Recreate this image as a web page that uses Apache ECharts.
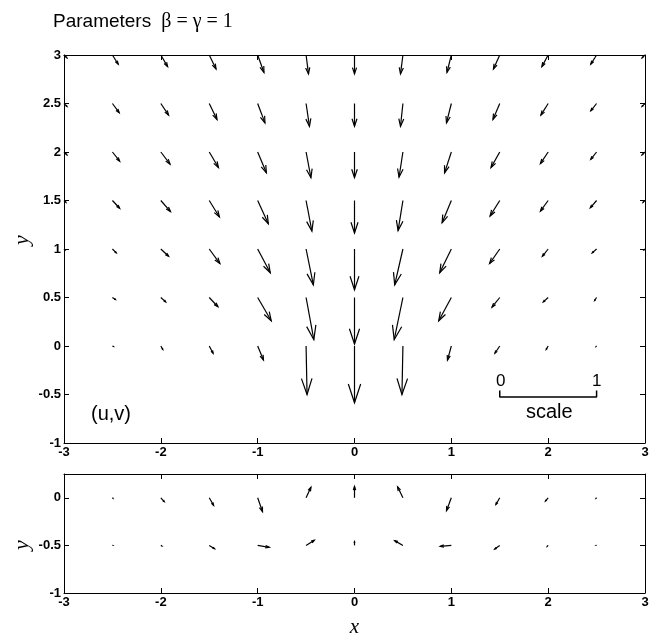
<!DOCTYPE html>
<html>
<head>
<meta charset="utf-8">
<script src="https://cdn.jsdelivr.net/npm/echarts@6/dist/echarts.min.js"></script>
<style>
  html, body { margin: 0; padding: 0; background: #fff; }
  #chart { width: 652px; height: 639px; }
</style>
</head>
<body>
<div id="chart"></div>
<script>
// Grid of sample points (x positions shared by both panels)
const xGrid = [-3, -2.5, -2, -1.5, -1, -0.5, 0, 0.5, 1, 1.5, 2, 2.5, 3];

// Upper panel: rows of y, with velocity components (u, v) per row
const yTop = [0, 0.5, 1, 1.5, 2, 2.5, 3];
const uTop = [
  [0, 0.01, 0.02, 0.04, 0.06, 0.01, 0, -0.01, -0.04, -0.05, -0.02, -0.005, 0],
  [0, 0.03, 0.05, 0.09, 0.14, 0.08, 0, -0.09, -0.13, -0.08, -0.05, -0.02, 0],
  [0.01, 0.04, 0.08, 0.11, 0.13, 0.075, 0, -0.085, -0.12, -0.105, -0.06, -0.045, -0.01],
  [0.02, 0.075, 0.1, 0.105, 0.11, 0.06, 0, -0.05, -0.095, -0.1, -0.08, -0.065, -0.02],
  [0.03, 0.075, 0.095, 0.095, 0.09, 0.05, 0, -0.04, -0.07, -0.09, -0.08, -0.06, -0.03],
  [0.03, 0.07, 0.08, 0.08, 0.075, 0.035, 0, -0.025, -0.05, -0.07, -0.075, -0.06, -0.03],
  [0.03, 0.06, 0.07, 0.07, 0.065, 0.025, 0, -0.025, -0.045, -0.065, -0.065, -0.06, -0.03]
];
const vTop = [
  [0, -0.005, -0.035, -0.075, -0.145, -0.5, -0.585, -0.5, -0.145, -0.075, -0.035, -0.005, 0],
  [0, -0.02, -0.045, -0.095, -0.24, -0.435, -0.48, -0.435, -0.24, -0.1, -0.045, -0.03, 0],
  [-0.01, -0.04, -0.075, -0.15, -0.245, -0.37, -0.42, -0.37, -0.245, -0.15, -0.075, -0.04, -0.01],
  [-0.02, -0.08, -0.115, -0.17, -0.24, -0.315, -0.335, -0.31, -0.23, -0.16, -0.11, -0.075, -0.02],
  [-0.03, -0.095, -0.125, -0.16, -0.215, -0.265, -0.265, -0.26, -0.215, -0.16, -0.12, -0.075, -0.03],
  [-0.03, -0.095, -0.12, -0.165, -0.2, -0.235, -0.235, -0.235, -0.2, -0.165, -0.12, -0.075, -0.03],
  [-0.03, -0.095, -0.12, -0.145, -0.18, -0.195, -0.195, -0.195, -0.18, -0.145, -0.12, -0.095, -0.03]
];

// Lower panel: two rows of y
const yBottom = [0, -0.5];
const uBottom = [
  [0, 0.005, 0.035, 0.045, 0.05, 0.05, 0, -0.055, -0.05, -0.04, -0.028, -0.005, 0],
  [0, 0.003, 0.01, 0.055, 0.12, 0.085, 0, -0.085, -0.115, -0.052, -0.01, -0.003, 0]
];
const vBottom = [
  [0, -0.005, -0.04, -0.08, -0.145, 0.11, 0.12, 0.115, -0.135, -0.07, -0.035, -0.005, 0],
  [0, 0, -0.005, -0.035, -0.02, 0.055, 0.04, 0.05, -0.01, -0.038, -0.01, 0, 0]
];

// Reference arrow length shown by the scale bar (one data unit)
const scaleStart = 1.5;
const scaleLength = 1;
const scaleY = -0.525;
const scaleTickTop = -0.46;

function buildArrows(xs, ys, us, vs) {
  const out = [];
  ys.forEach((y, i) => {
    xs.forEach((x, j) => {
      out.push([x, y, us[i][j], vs[i][j]]);
    });
  });
  return out;
}

const topArrows = buildArrows(xGrid, yTop, uTop, vTop);
const bottomArrows = buildArrows(xGrid, yBottom, uBottom, vBottom);

// Quiver-style arrow: shaft plus a head proportional to the arrow length
function renderArrow(params, api) {
  const x = api.value(0), y = api.value(1), u = api.value(2), v = api.value(3);
  const p0 = api.coord([x, y]);
  const p1 = api.coord([x + u, y + v]);
  const dx = p1[0] - p0[0], dy = p1[1] - p0[1];
  const a = 0.33, b = 0.33;
  const h1 = [p1[0] - a * (dx + b * dy), p1[1] - a * (dy - b * dx)];
  const h2 = [p1[0] - a * (dx - b * dy), p1[1] - a * (dy + b * dx)];
  const style = { stroke: '#000', lineWidth: 1.2, fill: null };
  return {
    type: 'group',
    children: [
      { type: 'polyline', shape: { points: [p0, p1] }, style: style },
      { type: 'polyline', shape: { points: [h1, p1, h2] }, style: style }
    ]
  };
}

const sans = 'Liberation Sans, Arial, sans-serif';
const serif = 'Liberation Serif, DejaVu Serif, serif';
const labelFont = { color: '#000', fontSize: 13, fontWeight: 'bold', fontFamily: sans };
const nameFont = { color: '#000', fontSize: 21, fontStyle: 'italic', fontFamily: serif };

function xAxisDef(gridIndex, position, withLabels, extra) {
  return Object.assign({
    type: 'value', gridIndex: gridIndex, position: position,
    min: -3, max: 3, interval: 1,
    axisLine: { show: true, onZero: false, lineStyle: { color: '#000', width: 1 } },
    axisTick: { show: true, inside: true, length: 5, lineStyle: { color: '#000' } },
    axisLabel: Object.assign({ show: withLabels, margin: 3 }, labelFont),
    splitLine: { show: false }
  }, extra || {});
}

function yAxisDef(gridIndex, position, min, max, withLabels) {
  return {
    type: 'value', gridIndex: gridIndex, position: position,
    min: min, max: max, interval: 0.5,
    axisLine: { show: true, onZero: false, lineStyle: { color: '#000', width: 1 } },
    axisTick: { show: true, inside: true, length: 5, lineStyle: { color: '#000' } },
    axisLabel: Object.assign({
      show: withLabels, margin: 3,
      formatter: (val) => (val > 0.2 && val < 0.3) ? '' : String(val)
    }, labelFont),
    splitLine: { show: false }
  };
}

const chart = echarts.init(document.getElementById('chart'), null, { renderer: 'canvas' });

chart.setOption({
  backgroundColor: '#fff',
  animation: false,
  title: {
    left: 48, top: 7,
    text: '{a|Parameters}  {b|β = γ = 1}',
    textStyle: {
      fontWeight: 'normal',
      rich: {
        a: { fontSize: 19, fontWeight: 'normal', color: '#000', fontFamily: sans },
        b: { fontSize: 20, fontWeight: 'normal', color: '#000', fontFamily: serif }
      }
    }
  },
  grid: [
    { left: 64, top: 55, width: 581, height: 388, show: false },
    { left: 64, top: 474, width: 581, height: 120, show: false }
  ],
  xAxis: [
    xAxisDef(0, 'bottom', true),
    xAxisDef(0, 'top', false),
    xAxisDef(1, 'bottom', true, {
      name: 'x', nameLocation: 'middle', nameGap: 24, nameTextStyle: nameFont
    }),
    xAxisDef(1, 'top', false)
  ],
  yAxis: [
    yAxisDef(0, 'left', -1, 3, true),
    yAxisDef(0, 'right', -1, 3, false),
    yAxisDef(1, 'left', -1, 0.25, true),
    yAxisDef(1, 'right', -1, 0.25, false)
  ],
  series: [
    {
      type: 'custom', name: 'velocity', xAxisIndex: 0, yAxisIndex: 0,
      renderItem: renderArrow, data: topArrows, encode: { x: 0, y: 1 }, clip: false, silent: true
    },
    {
      type: 'custom', name: 'velocity-lower', xAxisIndex: 2, yAxisIndex: 2,
      renderItem: renderArrow, data: bottomArrows, encode: { x: 0, y: 1 }, clip: false, silent: true
    },
    {
      type: 'line', name: 'scale', xAxisIndex: 0, yAxisIndex: 0,
      data: [
        [scaleStart, scaleTickTop],
        [scaleStart, scaleY],
        [scaleStart + scaleLength, scaleY],
        [scaleStart + scaleLength, scaleTickTop]
      ],
      symbol: 'none', silent: true,
      lineStyle: { color: '#000', width: 1.5 }
    }
  ],
  graphic: [
    { type: 'text', x: 22, y: 240, rotation: Math.PI / 2,
      style: { text: 'y', align: 'center', verticalAlign: 'middle', fill: '#000', font: 'italic 22px ' + serif } },
    { type: 'text', x: 22, y: 545, rotation: Math.PI / 2,
      style: { text: 'y', align: 'center', verticalAlign: 'middle', fill: '#000', font: 'italic 22px ' + serif } },
    { type: 'text', left: 501 - 5, top: 373, style: { text: '0', fontSize: 17, fill: '#000', fontFamily: sans } },
    { type: 'text', left: 597 - 5, top: 373, style: { text: '1', fontSize: 17, fill: '#000', fontFamily: sans } },
    { type: 'text', left: 526, top: 402, style: { text: 'scale', fontSize: 20, fill: '#000', fontFamily: sans } },
    { type: 'text', left: 91, top: 404, style: { text: '(u,v)', fontSize: 20, fill: '#000', fontFamily: sans } }
  ]
});
</script>
</body>
</html>
